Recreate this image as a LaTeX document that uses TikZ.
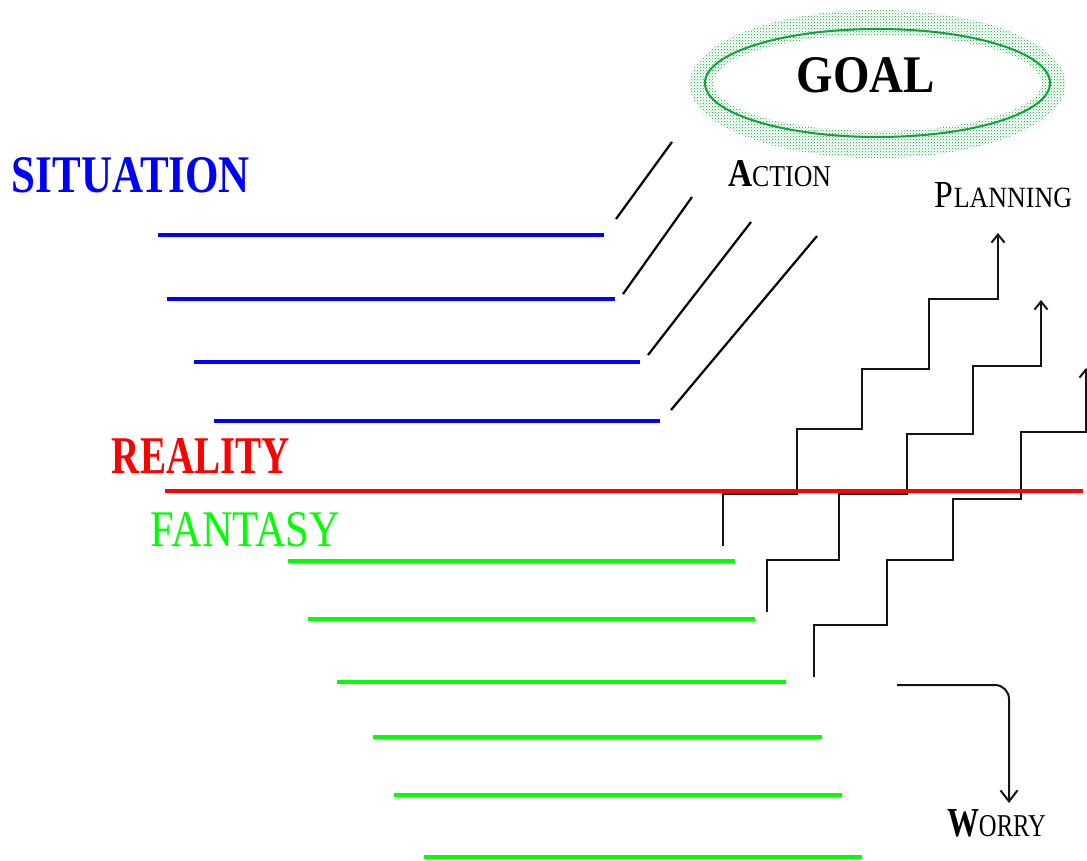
\documentclass[tikz,border=0pt]{standalone}
\usepackage{fontspec}
\setmainfont{Liberation Serif}
\usepackage{graphicx}
\usetikzlibrary{arrows.meta,patterns,shapes.geometric}
\definecolor{sitblue}{RGB}{0,0,255}
\definecolor{realred}{RGB}{255,0,0}
\definecolor{fantgreen}{RGB}{0,255,0}
\definecolor{goalgreen}{RGB}{20,160,60}
\definecolor{dotgreen}{RGB}{0,170,50}
\definecolor{stairgray}{RGB}{20,20,20}
\newcommand{\fitbox}[3]{\resizebox{#1pt}{#2pt}{#3}}
\begin{document}
\begin{tikzpicture}[x=1pt,y=-1pt,
  lbl/.style={inner sep=0pt, outer sep=0pt},
  bluel/.style={draw=sitblue, line width=3.6pt},
  redl/.style={draw=realred, line width=4.4pt},
  greenl/.style={draw=fantgreen, line width=4.4pt},
  diag/.style={draw=black, line width=2.2pt},
  stair/.style={draw=stairgray, line width=2.5pt, line join=miter},
  arr/.style={-{Straight Barb[length=8pt,width=13pt,line width=2pt]}},
  bigarr/.style={-{Straight Barb[length=11pt,width=17pt,line width=2pt]}}
]
\useasboundingbox (0,0) rectangle (1087,861);
\fill[white] (0,0) rectangle (1087,861);
\clip (0,0) rectangle (1087,861);

% goal ellipse with dotted halo
\fill[pattern=crosshatch dots, pattern color=dotgreen, even odd rule]
  (877.5,84) ellipse [x radius=188, y radius=74]
  (877.5,83) ellipse [x radius=164, y radius=48];
\node (goalell) [draw=goalgreen, line width=2pt, ellipse, inner sep=0pt,
  minimum width=345pt, minimum height=108pt] at (877.5,83) {};
\node[lbl] (goal) at (866,75.5) {\fitbox{138}{35}{\textbf{GOAL}}};

% labels
\node[lbl, text=sitblue] (situation) at (131,175.5) {\fitbox{238}{35}{\textbf{SITUATION}}};
\node[lbl, text=realred] (reality) at (201,455.5) {\fitbox{178}{35}{\textbf{REALITY}}};
\node[lbl, text=fantgreen] (fantasy) at (245.5,530) {\fitbox{189}{34}{FANTASY}};
\node[lbl] (action) at (779.5,174) {\fitbox{103}{26}{\textbf{A}\scalebox{0.77}{CTION}}};
\node[lbl] (planning) at (1003.5,195.5) {\fitbox{137}{25}{P\scalebox{0.77}{LANNING}}};
\node[lbl] (worry) at (996.5,823.5) {\fitbox{99}{27}{\textbf{W}\scalebox{0.77}{ORRY}}};

% situation lines
\draw[bluel] (158,235) -- (604,235);
\draw[bluel] (167,299) -- (615,299);
\draw[bluel] (194,362) -- (640,362);
\draw[bluel] (214,421) -- (660,421);

% action diagonals
\draw[diag] (616,219) -- (672,142);
\draw[diag] (623,294) -- (692,197);
\draw[diag] (648,355) -- (751,222);
\draw[diag] (671,410) -- (817,236);

% fantasy lines
\draw[greenl] (288,561) -- (735,561);
\draw[greenl] (308,619) -- (755,619);
\draw[greenl] (337,682) -- (786,682);
\draw[greenl] (373,737) -- (822,737);
\draw[greenl] (394,795) -- (842,795);
\draw[greenl] (424,857) -- (862,857);

% staircases
\draw[stair, arr] (723,546) -- (723,494) -- (797,494) -- (797,429) -- (862,429)
  -- (862,369) -- (929,369) -- (929,299) -- (998,299) -- (998,233);
\draw[stair, arr] (767,612) -- (767,560) -- (839,560) -- (839,494) -- (907,494)
  -- (907,434) -- (973,434) -- (973,366) -- (1041,366) -- (1041,300);
\draw[stair, arr] (814,677) -- (814,625) -- (887,625) -- (887,560) -- (953,560)
  -- (953,499) -- (1021,499) -- (1021,432) -- (1086,432) -- (1086,368);

% reality line
\draw[redl] (165,491) -- (1083,491);

% worry arrow
\coordinate (wstart) at (897,685);
\coordinate (wend) at (1009,803);
\draw[draw=stairgray, line width=2pt, rounded corners=14pt, bigarr]
  (wstart) -- (wend |- wstart) -- (wend);
\end{tikzpicture}
\end{document}
